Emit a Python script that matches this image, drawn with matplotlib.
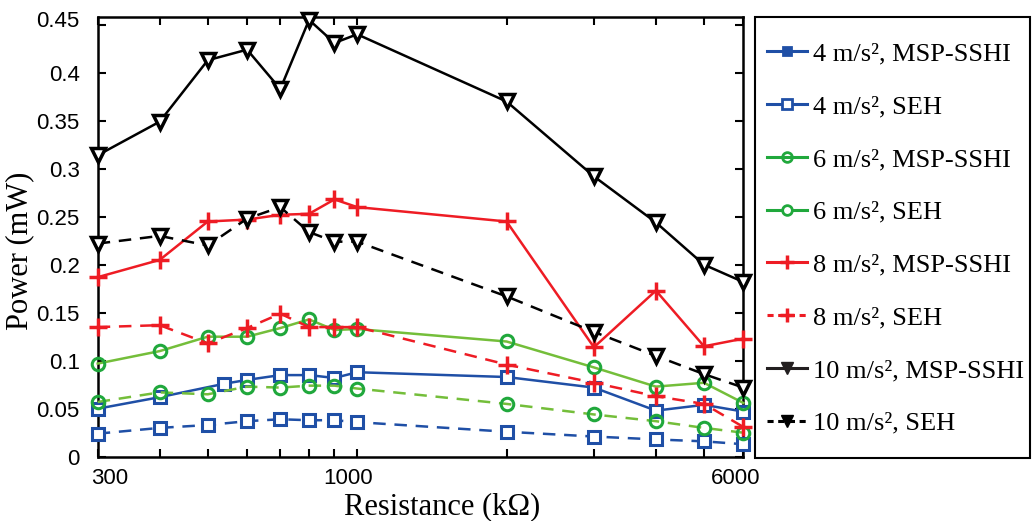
import matplotlib
matplotlib.use('Agg')
import matplotlib.pyplot as plt
import matplotlib.transforms as mtransforms
from matplotlib.lines import Line2D
from matplotlib.patches import Rectangle
from matplotlib.ticker import FixedLocator, NullLocator, FixedFormatter

# Resistance (kOhm)
r = [300, 400, 500, 600, 700, 800, 900, 1000, 2000, 3000, 4000, 5000, 6000]
r_blue = [300, 400, 540, 600, 700, 800, 900, 1000, 2000, 3000, 4000, 5000, 6000]

# Power (mW)
p4_ssh = [0.050, 0.062, 0.076, 0.080, 0.085, 0.085, 0.082, 0.088, 0.083, 0.072, 0.048, 0.054, 0.047]
p4_seh = [0.024, 0.030, 0.033, 0.037, 0.039, 0.038, 0.038, 0.036, 0.026, 0.021, 0.018, 0.016, 0.013]
p6_ssh = [0.097, 0.110, 0.125, 0.125, 0.134, 0.143, 0.132, 0.133, 0.120, 0.093, 0.073, 0.077, 0.056]
p6_seh = [0.057, 0.067, 0.065, 0.073, 0.072, 0.074, 0.074, 0.071, 0.055, 0.044, 0.037, 0.030, 0.025]
p8_ssh = [0.187, 0.205, 0.245, 0.247, 0.252, 0.253, 0.268, 0.260, 0.245, 0.114, 0.173, 0.115, 0.123]
p8_seh = [0.135, 0.137, 0.118, 0.134, 0.149, 0.135, 0.135, 0.135, 0.096, 0.077, 0.063, 0.055, 0.031]
p10_ssh = [0.314, 0.349, 0.413, 0.424, 0.383, 0.455, 0.431, 0.440, 0.370, 0.292, 0.244, 0.200, 0.182]
p10_seh = [0.222, 0.230, 0.220, 0.248, 0.260, 0.234, 0.224, 0.224, 0.167, 0.130, 0.105, 0.086, 0.072]

labels = ['4 m/s², MSP-SSHI', '4 m/s², SEH', '6 m/s², MSP-SSHI', '6 m/s², SEH',
          '8 m/s², MSP-SSHI', '8 m/s², SEH', '10 m/s², MSP-SSHI', '10 m/s², SEH']
xlabels = ['300', '', '', '', '', '', '', '1000', '', '', '', '', '6000']
ylabels = ['0', '0.05', '0.1', '0.15', '0.2', '0.25', '0.3', '0.35', '0.4', '0.45']
yt = [0, 0.05, 0.1, 0.15, 0.2, 0.25, 0.3, 0.35, 0.4, 0.45]

blue = '#1f4fa6'
green_l = '#74be3a'
green_m = '#20a83c'
red = '#ee1c24'

fig = plt.figure(figsize=(10.33, 5.21), dpi=100)
ax = fig.add_axes([97.7 / 1033, 1 - 456.7 / 521, (743.3 - 97.7) / 1033, (456.7 - 17.3) / 521])

dash = (5, 3.5)
lw = 1.8
kw = dict(lw=lw, clip_on=False, zorder=3)
ax.plot(r_blue, p4_ssh, '-', color=blue, marker='s', ms=8, mfc='white', mec=blue, mew=2.2, **kw)
ax.plot(r, p4_seh, '--', dashes=dash, color=blue, marker='s', ms=8, mfc='white', mec=blue, mew=2.2, **kw)
ax.plot(r, p6_ssh, '-', color=green_l, marker='o', ms=9, mfc='none', mec=green_m, mew=2.2, **kw)
ax.plot(r, p6_seh, '--', dashes=dash, color=green_l, marker='o', ms=9, mfc='none', mec=green_m, mew=2.2, **kw)
ax.plot(r, p8_ssh, '-', color=red, marker='+', ms=13, mec=red, mew=2.5, **kw)
ax.plot(r, p8_seh, '--', dashes=dash, color=red, marker='+', ms=13, mec=red, mew=2.5, **kw)
ax.plot(r, p10_ssh, '-', color='black', marker='v', ms=10, mfc='white', mec='black', mew=2.5, **kw)
ax.plot(r, p10_seh, '--', dashes=dash, color='black', marker='v', ms=10, mfc='white', mec='black', mew=2.5, **kw)

ax.set_xscale('log')
ax.set_xlim(300, 6000)
ax.set_ylim(0, 0.4577)
ax.xaxis.set_major_locator(FixedLocator(r))
ax.xaxis.set_minor_locator(NullLocator())
ax.xaxis.set_major_formatter(FixedFormatter(xlabels))
ax.set_yticks(yt)
ax.set_yticklabels(ylabels)
ax.tick_params(direction='in', length=6, width=1.5, top=True, right=True, labelsize=16)
ax.tick_params(axis='x', pad=8)
ax.tick_params(axis='y', pad=13)
for lab in ax.get_xticklabels() + ax.get_yticklabels():
    lab.set_fontfamily('Liberation Sans')
for s in ax.spines.values():
    s.set_linewidth(1.8)

# nudge a few tick labels like in the original
def nudge(lab, dx, dy):
    lab.set_transform(lab.get_transform() + mtransforms.ScaledTranslation(dx / 100, dy / 100, fig.dpi_scale_trans))

xt = ax.xaxis.get_major_ticks()
nudge(xt[0].label1, 12, 0)
nudge(xt[7].label1, -9, 0)
nudge(xt[12].label1, -8, 0)
nudge(ax.yaxis.get_major_ticks()[9].label1, 0, 6)

ax.set_xlabel('Resistance (kΩ)', fontfamily='Liberation Serif', fontsize=22)
ax.set_ylabel('Power (mW)', fontfamily='Liberation Serif', fontsize=22)
ax.xaxis.set_label_coords(0.533, -0.081)
ax.yaxis.set_label_coords(-0.099, 0.468)

# legend drawn as in the original figure
handles = [
    Line2D([], [], color=blue, lw=2.2, marker='s', ms=6, mfc=blue, mec=blue, mew=2),
    Line2D([], [], color=blue, lw=2.2, marker='s', ms=7, mfc='white', mec=blue, mew=2),
    Line2D([], [], color=green_m, lw=2.2, marker='o', ms=7, mfc='none', mec=green_m, mew=2),
    Line2D([], [], color=green_m, lw=2.2, marker='o', ms=7, mfc='white', mec=green_m, mew=2),
    Line2D([], [], color=red, lw=2.2, marker='+', ms=10, mec=red, mew=2.5),
    Line2D([], [], color=red, lw=2.2, ls='--', dashes=(2, 1.5), marker='+', ms=10, mec=red, mew=2.5),
    Line2D([], [], color='#231f20', lw=2.2, marker='v', ms=9, mfc='#231f20', mec='#231f20'),
    Line2D([], [], color='black', lw=2.2, ls='--', dashes=(2, 1.5), marker='v', ms=9, mfc='black', mec='black'),
]
fig.legend(handles, labels, loc='upper left', bbox_to_anchor=(767 / 1033, 1 - 42 / 521),
           prop={'family': 'Liberation Serif', 'size': 19}, frameon=False,
           handlelength=1.5, handletextpad=0.25, labelspacing=1.11,
           borderpad=0, borderaxespad=0)
fig.patches.append(Rectangle((755 / 1033, 1 - 458 / 521), 275 / 1033, 441 / 521,
                             transform=fig.transFigure, fill=False, edgecolor='black', lw=1.5))

fig.savefig('out.png', dpi=100)
